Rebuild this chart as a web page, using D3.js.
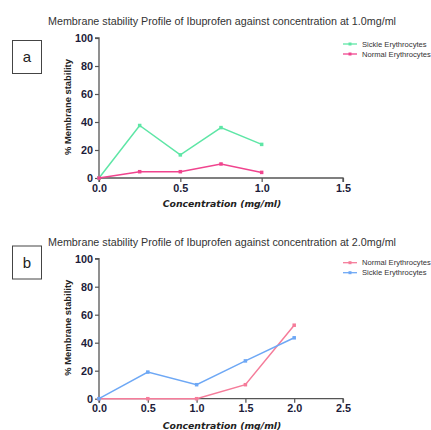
<!DOCTYPE html>
<html><head><meta charset="utf-8">
<script src="https://cdn.jsdelivr.net/npm/d3@7"></script>
<style>body{margin:0;background:#fff}svg{display:block}</style>
</head><body>
<svg id="c" width="431" height="430"></svg>
<script>
// Panel a
const concA = [0, 0.25, 0.5, 0.75, 1.0];
const sickleA = [0, 37.5, 16.5, 36, 24];
const normalA = [0, 4.5, 4.5, 10, 4];
const xTicksA = [0, 0.5, 1.0, 1.5];
// Panel b
const concB = [0, 0.5, 1.0, 1.5, 2.0];
const normalB = [0, 0, 0, 10, 52.5];
const sickleB = [0, 19, 10, 27, 43.5];
const xTicksB = [0, 0.5, 1.0, 1.5, 2.0, 2.5];
const yTicks = [0, 20, 40, 60, 80, 100];

const svg = d3.select('#c');
const tickFont = "'Liberation Sans', Arial, sans-serif";

function panel(o) {
  const g = svg.append('g');
  const x = d3.scaleLinear().domain([0, o.xmax]).range([99, 343]);
  const y = d3.scaleLinear().domain([0, 100]).range([o.y0, o.y0 - 140]);
  // title
  g.append('text').attr('x', 222).attr('y', o.titleY).attr('text-anchor', 'middle')
    .attr('font-family', tickFont).attr('font-size', 10.6).attr('fill', '#333')
    .attr('textLength', 348).attr('lengthAdjust', 'spacingAndGlyphs')
    .text(o.title);
  // letter box
  g.append('rect').attr('x', 12.5).attr('y', o.boxY + 0.5).attr('width', 29).attr('height', 33)
    .attr('fill', 'none').attr('stroke', '#444').attr('stroke-width', 1);
  g.append('text').attr('x', 27).attr('y', o.boxY + 22).attr('text-anchor', 'middle')
    .attr('font-family', tickFont).attr('font-size', 15).attr('fill', '#222').text(o.letter);
  // axes
  const ya = g.append('g').attr('transform', 'translate(99,0)')
    .call(d3.axisLeft(y).tickValues(yTicks).tickSize(4).tickPadding(2).tickFormat(d3.format('d')));
  const xa = g.append('g').attr('transform', `translate(0,${o.y0})`)
    .call(d3.axisBottom(x).tickValues(o.xt).tickSize(4).tickPadding(2).tickFormat(d3.format('.1f')));
  [ya, xa].forEach(a => {
    a.select('.domain').attr('stroke', '#555').attr('stroke-width', 1.3);
    a.selectAll('.tick line').attr('stroke', '#555').attr('stroke-width', 1.2);
    a.selectAll('.tick text').attr('font-family', tickFont).attr('font-weight', 'bold')
      .attr('font-size', 10.8).attr('fill', '#1c1c3a');
  });
  ya.select('.domain').attr('d', `M-4,${y(100)}H0V${o.y0}`);
  xa.select('.domain').attr('d', `M${x(0)},4V0H${x(o.xmax)}V4`);
  // axis labels
  g.append('text').attr('transform', `translate(71,${o.y0 - 71}) rotate(-90)`)
    .attr('text-anchor', 'middle').attr('font-family', tickFont).attr('font-weight', 'bold')
    .attr('font-size', 9.4).attr('fill', '#222').text('% Membrane stability');
  g.append('text').attr('x', 222).attr('y', o.xLabelY).attr('text-anchor', 'middle')
    .attr('font-family', "'DejaVu Sans', sans-serif").attr('font-weight', 'bold').attr('font-style', 'italic')
    .attr('font-size', 9.3).attr('fill', '#222').text('Concentration (mg/ml)');
  // series
  const line = d3.line().x(d => x(d[0])).y(d => y(d[1]));
  o.series.forEach((s, i) => {
    const pts = o.conc.map((c, j) => [c, s.values[j]]);
    g.append('path').datum(pts).attr('d', line).attr('fill', 'none')
      .attr('stroke', s.color).attr('stroke-width', 1.5);
    g.selectAll(null).data(pts).enter().append('rect')
      .attr('x', d => x(d[0]) - 1.75).attr('y', d => y(d[1]) - 1.75).attr('width', 3.5).attr('height', 3.5)
      .attr('fill', s.color);
    const ly = o.legY + i * 10;
    g.append('line').attr('x1', 343).attr('x2', 357).attr('y1', ly).attr('y2', ly)
      .attr('stroke', s.color).attr('stroke-width', 1.3);
    g.append('rect').attr('x', 348.5).attr('y', ly - 1.5).attr('width', 3).attr('height', 3).attr('fill', s.color);
    g.append('text').attr('x', 362).attr('y', ly + 2.5).attr('font-family', tickFont)
      .attr('font-size', 7.6).attr('fill', '#333').text(s.name);
  });
}

panel({title: 'Membrane stability Profile of Ibuprofen against concentration at 1.0mg/ml',
  titleY: 24.5, boxY: 40, letter: 'a', y0: 178, xmax: 1.5, xt: xTicksA, conc: concA,
  xLabelY: 207, legY: 44,
  series: [{name: 'Sickle Erythrocytes', values: sickleA, color: '#5ee6a6'},
           {name: 'Normal Erythrocytes', values: normalA, color: '#f0448e'}]});
panel({title: 'Membrane stability Profile of Ibuprofen against concentration at 2.0mg/ml',
  titleY: 246, boxY: 245.5, letter: 'b', y0: 398.7, xmax: 2.5, xt: xTicksB, conc: concB,
  xLabelY: 429, legY: 262.7,
  series: [{name: 'Normal Erythrocytes', values: normalB, color: '#f57c9a'},
           {name: 'Sickle Erythrocytes', values: sickleB, color: '#6ea8f5'}]});
</script>
</body></html>
